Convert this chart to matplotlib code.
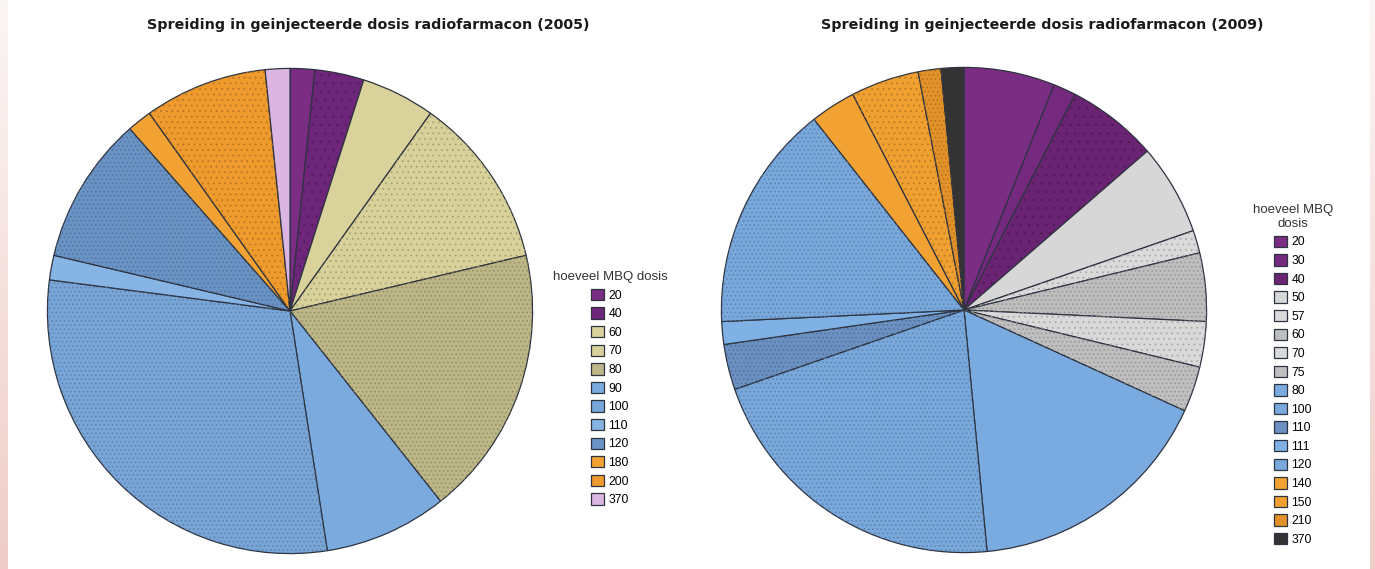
import numpy as np
import matplotlib
matplotlib.use("Agg")
import matplotlib.pyplot as plt
from matplotlib.patches import Wedge

plt.rcParams["font.family"] = ["Liberation Sans", "DejaVu Sans"]
plt.rcParams["hatch.linewidth"] = 0.6

# 2005 - aantal patienten per dosis (MBq)
doses_2005 = ["20", "40", "60", "70", "80", "90", "100", "110", "120", "180", "200", "370"]
counts_2005 = [1, 2, 3, 7, 11, 5, 18, 1, 6, 1, 5, 1]
colors_2005 = ["#7b2d84", "#6d2679", "#d9d39b", "#d8d199", "#bdb686", "#7aaade",
               "#77a5d8", "#86b4e4", "#6a93c5", "#f2a232", "#ee9a2c", "#dcb6e2"]
hatch_2005 = [None, "..", None, "...", "....", None, "....", None, "....", None, "...", None]

# 2009
doses_2009 = ["20", "30", "40", "50", "57", "60", "70", "75", "80", "100", "110",
              "111", "120", "140", "150", "210", "370"]
counts_2009 = [4, 1, 4, 4, 1, 3, 2, 2, 11, 14, 2, 1, 10, 2, 3, 1, 1]
colors_2009 = ["#7b2d84", "#74287e", "#6b2474", "#d7d7d7", "#dadada", "#bebebe",
               "#d9d9d9", "#bfbfbf", "#7aabe0", "#78a8dc", "#6a91c1", "#80b1e5",
               "#78a8dc", "#f2a232", "#f0a030", "#e39229", "#333333"]
hatch_2009 = [None, None, "..", None, "...", "....", "...", "....", None, "....", "....",
              None, "....", None, "...", "....", None]

W, H = 1375, 569
fig = plt.figure(figsize=(W / 100, H / 100), dpi=100)
fig.patch.set_facecolor("white")

# roze randen links en rechts
grad = np.linspace(0, 1, 256).reshape(-1, 1)
cmap = matplotlib.colors.LinearSegmentedColormap.from_list("rand", ["#fbf6f5", "#efcdc8"])
for x0, w in [(0, 8), (1370, 5)]:
    bax = fig.add_axes([x0 / W, 0, w / W, 1])
    bax.imshow(grad, aspect="auto", cmap=cmap, origin="upper")
    bax.axis("off")


def draw_pie(cx, cy, r, counts, colors, hatches, title, title_x):
    ax = fig.add_axes([(cx - r) / W, (H - cy - r) / H, 2 * r / W, 2 * r / H])
    wedges, _ = ax.pie(counts, colors=colors, startangle=90, counterclock=False,
                       wedgeprops=dict(edgecolor="#2e3340", linewidth=0.9))
    for w, c, h in zip(wedges, colors, hatches):
        if h is None:
            continue
        dark = tuple(v * 0.78 for v in matplotlib.colors.to_rgb(c))
        ax.add_patch(Wedge(w.center, w.r, w.theta1, w.theta2, facecolor="none",
                           edgecolor=dark, hatch=h, linewidth=0))
    ax.set_xlim(-1.01, 1.01)
    ax.set_ylim(-1.01, 1.01)
    ax.axis("off")
    fig.text(title_x / W, 1 - 25 / H, title, ha="center", va="center",
             fontsize=10.3, fontweight="bold", family="DejaVu Sans", color="#1a1a1a")
    return wedges


w05 = draw_pie(290, 311, 245, counts_2005, colors_2005, hatch_2005,
               "Spreiding in geinjecteerde dosis radiofarmacon (2005)", 368)
w09 = draw_pie(964, 310, 245, counts_2009, colors_2009, hatch_2009,
               "Spreiding in geinjecteerde dosis radiofarmacon (2009)", 1042)

leg_kw = dict(frameon=False, fontsize=8.8, title_fontsize=9.5, handlelength=1.1,
              handleheight=1.05, handletextpad=0.35, labelspacing=0.47, borderpad=0)
leg1 = fig.legend(w05, doses_2005, title="hoeveel MBQ dosis", loc="upper center",
                  bbox_to_anchor=(610 / W, 1 - 265 / H), **leg_kw)
leg2 = fig.legend(w09, doses_2009, title="hoeveel MBQ\ndosis", loc="upper center",
                  bbox_to_anchor=(1293 / W, 1 - 198 / H), **leg_kw)
for leg in (leg1, leg2):
    leg.get_title().set_multialignment("center")
    leg.get_title().set_color("#333333")

fig.savefig("out.png", dpi=100)
